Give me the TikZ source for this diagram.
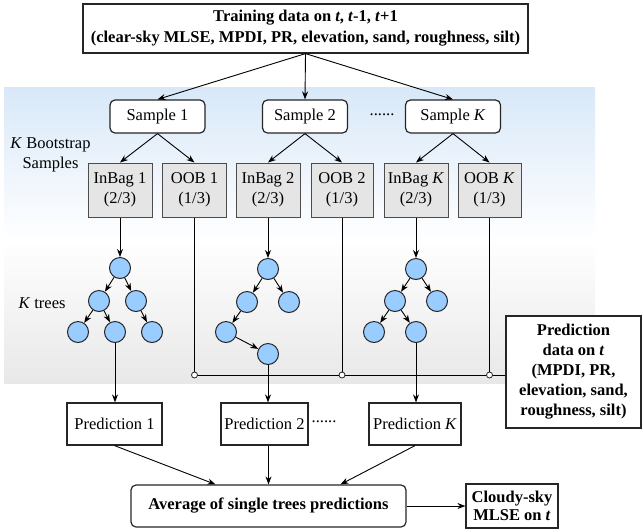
\documentclass[tikz,border=0pt]{standalone}
\usepackage{fontspec}
\setmainfont{Liberation Serif}
\usetikzlibrary{arrows.meta}
\definecolor{bgblue}{RGB}{216,232,248}
\definecolor{bggray}{RGB}{232,232,232}
\definecolor{bagfill}{RGB}{229,229,229}
\definecolor{knotblue}{RGB}{153,204,255}
\tikzset{
	arr/.style={-{Stealth[length=8pt,width=6pt]},line width=0.9pt},
	box/.style={draw=black!85,line width=1.2pt,fill=white,align=center,inner sep=2pt},
	rbox/.style={box,rounded corners=5pt},
	bag/.style={draw=black!70,line width=1pt,fill=bagfill,minimum width=64pt,minimum height=54pt,align=center,inner sep=1pt},
	knot/.style={circle,draw=black!85,line width=1pt,fill=knotblue,minimum size=21pt,inner sep=0pt},
	joint/.style={circle,draw=black!85,line width=0.8pt,fill=white,minimum size=6pt,inner sep=0pt},
}
\begin{document}
\begin{tikzpicture}[x=1pt,y=-1pt,font=\fontsize{16.5}{20}\selectfont]
	\useasboundingbox (0,0) rectangle (642,531);
	% background
	\shade[top color=bgblue,bottom color=white] (4,87) rectangle (595,240);
	\shade[top color=white,bottom color=bggray] (4,240) rectangle (595,383);
	
	\node[box,minimum width=445pt,minimum height=49pt,font=\fontsize{16.5}{21}\selectfont\bfseries] (train) at (305.5,28.5)
		{Training data on \textit{t}, \textit{t}-1, \textit{t}+1\\(clear-sky MLSE, MPDI, PR, elevation, sand, roughness, silt)};
	
	\node[rbox,minimum width=95pt,minimum height=33pt] (s1) at (157.5,116.5) {Sample 1};
	\node[rbox,minimum width=85pt,minimum height=33pt] (s2) at (305,116.5) {Sample 2};
	\node[rbox,minimum width=95pt,minimum height=33pt] (sK) at (453,116.5) {Sample \textit{K}};
	\node (dots1) at (382,115) {......};
	
	\node[align=center] (boot) at (50.5,155) {\textit{K} Bootstrap\\Samples};
	\node (ktrees) at (42,303) {\textit{K} trees};
	
	\draw[arr] (train.south) -- (s1.north);
	\draw[arr] (train.south) -- (s2.north);
	\draw[arr] (train.south) -- (sK.north);
	
	\node[bag] (in1) at (120,190) {InBag 1\\(2/3)};
	\node[bag] (oob1) at (194.5,190) {OOB 1\\(1/3)};
	\node[bag] (in2) at (268,190) {InBag 2\\(2/3)};
	\node[bag,minimum width=62pt] (oob2) at (342,190) {OOB 2\\(1/3)};
	\node[bag] (inK) at (416,190) {InBag \textit{K}\\(2/3)};
	\node[bag,minimum width=63pt] (oobK) at (489.5,190) {OOB \textit{K}\\(1/3)};
	
	\draw[arr] (s1.south) -- (in1.north);
	\draw[arr] (s1.south) -- (oob1.north);
	\draw[arr] (s2.south) -- (in2.north);
	\draw[arr] (s2.south) -- (oob2.north);
	\draw[arr] (sK.south) -- (inK.north);
	\draw[arr] (sK.south) -- (oobK.north);
	
	% tree 1
	\node[knot] (t1a) at (120,268) {};
	\node[knot] (t1b) at (99,301) {};
	\node[knot] (t1c) at (136,301) {};
	\node[knot] (t1d) at (78,332) {};
	\node[knot] (t1e) at (115,332) {};
	\node[knot] (t1f) at (152,332) {};
	\draw[arr] (in1) -- (t1a);
	\draw[arr] (t1a) -- (t1b);
	\draw[arr] (t1a) -- (t1c);
	\draw[arr] (t1b) -- (t1d);
	\draw[arr] (t1b) -- (t1e);
	\draw[arr] (t1c) -- (t1f);
	
	% tree 2
	\node[knot] (t2a) at (268,269) {};
	\node[knot] (t2b) at (247,302) {};
	\node[knot] (t2c) at (289,302) {};
	\node[knot] (t2d) at (226,332) {};
	\node[knot] (t2e) at (268,354) {};
	\draw[arr] (in2) -- (t2a);
	\draw[arr] (t2a) -- (t2b);
	\draw[arr] (t2a) -- (t2c);
	\draw[arr] (t2b) -- (t2d);
	\draw[arr] (t2d) -- (t2e);
	
	% tree K
	\node[knot] (t3a) at (416,269) {};
	\node[knot] (t3b) at (395,301) {};
	\node[knot] (t3c) at (437,301) {};
	\node[knot] (t3d) at (374,332) {};
	\node[knot] (t3e) at (416,332) {};
	\draw[arr] (inK) -- (t3a);
	\draw[arr] (t3a) -- (t3b);
	\draw[arr] (t3a) -- (t3c);
	\draw[arr] (t3b) -- (t3d);
	\draw[arr] (t3b) -- (t3e);
	
	\node[box,minimum width=135pt,minimum height=112pt,font=\fontsize{16.5}{20}\selectfont\bfseries] (pdata) at (573.5,372)
		{Prediction\\data on \textit{t}\\(MPDI, PR,\\elevation, sand,\\roughness, silt)};
	
	% OOB lines
	\coordinate (bus) at (0,375);
	\draw[line width=0.9pt] (oob1.south |- bus) -- (pdata.west |- bus);
	\draw[line width=0.9pt] (oob1.south) -- (oob1.south |- bus) node[joint] {};
	\draw[line width=0.9pt] (oob2.south) -- (oob2.south |- bus) node[joint] {};
	\draw[line width=0.9pt] (oobK.south) -- (oobK.south |- bus) node[joint] {};
	
	\node[box,minimum width=95pt,minimum height=42pt] (p1) at (114.5,424) {Prediction 1};
	\node[box,minimum width=87pt,minimum height=42pt] (p2) at (264.5,424) {Prediction 2};
	\node[box,minimum width=92pt,minimum height=42pt] (pK) at (415,424) {Prediction \textit{K}};
	\node (dots2) at (324,422) {......};
	
	\draw[arr] (t1e) -- (t1e |- p1.north);
	\draw[arr] (t2e) -- (t2e |- p2.north);
	\draw[arr] (t3e) -- (t3e |- pK.north);
	
	\node[rbox,minimum width=275pt,minimum height=42pt,font=\fontsize{16.5}{20}\selectfont\bfseries] (avg) at (268.5,506) {Average of single trees predictions};
	\node[box,minimum width=92pt,minimum height=44pt,font=\fontsize{16.5}{18}\selectfont\bfseries] (cloudy) at (512,506) {Cloudy-sky\\MLSE on \textit{t}};
	
	\draw[arr] (p1.south) -- ([xshift=-53pt]avg.north);
	\draw[arr] (p2.south -| avg.north) -- (avg.north);
	\draw[arr] (pK.south) -- ([xshift=72pt]avg.north);
	\draw[arr] (avg) -- (cloudy);
\end{tikzpicture}
\end{document}
